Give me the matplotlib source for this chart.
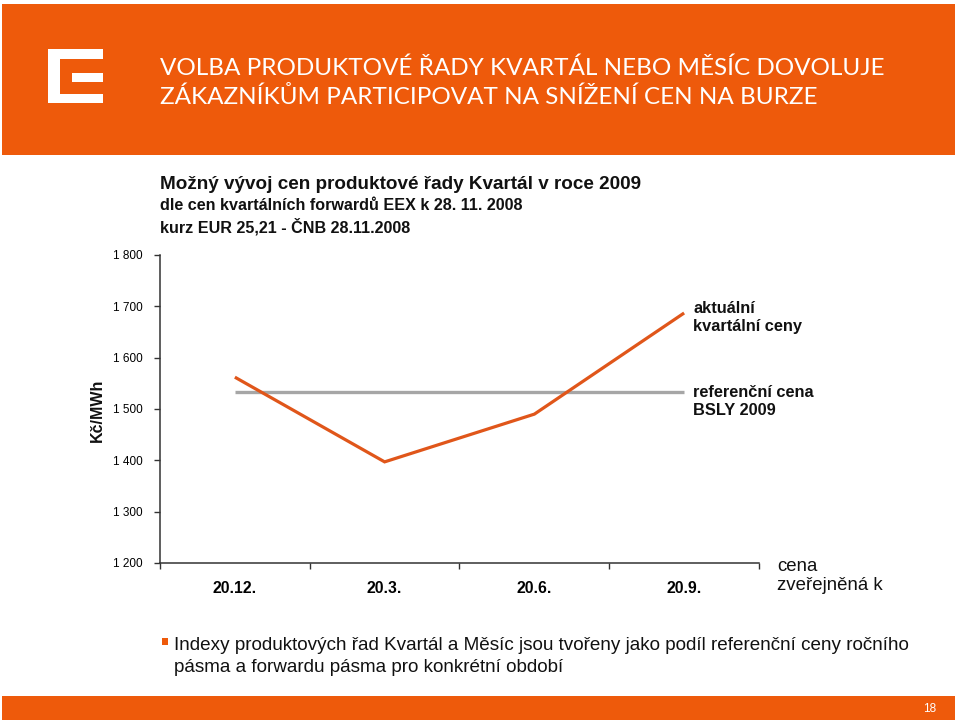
import matplotlib
matplotlib.use("Agg")
import matplotlib.pyplot as plt
from matplotlib.patches import Rectangle

# ---- data ----
categories = ["20.12.", "20.3.", "20.6.", "20.9."]
actual_prices = [1562, 1397, 1490, 1687]
reference_price = [1534, 1534, 1534, 1534]
y_ticks = [1200, 1300, 1400, 1500, 1600, 1700, 1800]
y_tick_labels = ["1 200", "1 300", "1 400", "1 500", "1 600", "1 700", "1 800"]

W, H = 960, 725
ORANGE = "#EE5A0B"
LINE_ORANGE = "#E0561A"
GREY = "#A6A6A6"

fig = plt.figure(figsize=(W / 100, H / 100), dpi=100)
fig.patch.set_facecolor("white")


def fx(x):
    return x / W


def fy(y):
    return 1 - y / H


# header band
fig.patches.append(Rectangle((fx(2), fy(155)), fx(953), 151 / H, transform=fig.transFigure,
                             facecolor=ORANGE, edgecolor="none", zorder=0))
# logo
for (x0, y0, x1, y1) in [(48, 49, 103, 59), (48, 49, 60, 103), (48, 94, 103, 103), (72, 73, 103, 82)]:
    fig.patches.append(Rectangle((fx(x0), fy(y1)), fx(x1 - x0), (y1 - y0) / H,
                                 transform=fig.transFigure, facecolor="white",
                                 edgecolor="none", zorder=1))

title_font = ["Lato", "DejaVu Sans"]
fig.text(fx(160), fy(75), "VOLBA PRODUKTOVÉ ŘADY KVARTÁL NEBO MĚSÍC DOVOLUJE",
         color="white", fontsize=17.5, family=title_font, va="baseline", ha="left")
fig.text(fx(160), fy(104), "ZÁKAZNÍKŮM PARTICIPOVAT NA SNÍŽENÍ CEN NA BURZE",
         color="white", fontsize=17.5, family=title_font, va="baseline", ha="left")

# footer band
fig.patches.append(Rectangle((fx(2), fy(720)), fx(953), 24 / H, transform=fig.transFigure,
                             facecolor=ORANGE, edgecolor="none", zorder=0))
fig.text(fx(936), fy(709), "18", color="white", fontsize=8.5, family=["Liberation Sans"],
         ha="right", va="center")

# chart subtitle
sans = ["Liberation Sans", "DejaVu Sans"]
fig.text(fx(160), fy(189), "Možný vývoj cen produktové řady Kvartál v roce 2009",
         fontsize=13.6, fontweight="bold", family=sans, color="#111111", va="baseline")
fig.text(fx(160), fy(210), "dle cen kvartálních forwardů EEX k 28. 11. 2008",
         fontsize=11.6, fontweight="bold", family=sans, color="#111111", va="baseline")
fig.text(fx(160), fy(232), "kurz EUR 25,21 - ČNB 28.11.2008",
         fontsize=11.6, fontweight="bold", family=sans, color="#111111", va="baseline")

# axes
ax = fig.add_axes([fx(160), fy(563), (759 - 160) / W, (563 - 255) / H])
ax.set_facecolor("none")
xs = list(range(len(categories)))
ax.plot(xs, reference_price, color=GREY, lw=2.4, solid_capstyle="butt", zorder=2)
ax.plot(xs, actual_prices, color=LINE_ORANGE, lw=2.3, solid_capstyle="butt",
        solid_joinstyle="miter", zorder=3)
ax.set_xlim(-0.5, len(categories) - 0.5)
ax.set_ylim(y_ticks[0], y_ticks[-1])
ax.set_yticks(y_ticks)
ax.set_yticklabels(y_tick_labels, family=sans, fontsize=8.5)
ax.set_xticks([i - 0.5 for i in range(len(categories) + 1)])
ax.set_xticklabels([])
ax.set_xticks(xs, minor=True)
ax.set_xticklabels(categories, minor=True, family=sans, fontsize=11.3, fontweight="bold")
ax.tick_params(axis="x", which="minor", length=0, pad=13)
ax.tick_params(axis="x", which="major", length=4, width=1, color="#333333", direction="out")
ax.tick_params(axis="y", length=4.5, width=1, color="#333333", direction="out", pad=8)
for s in ["top", "right"]:
    ax.spines[s].set_visible(False)
for s in ["left", "bottom"]:
    ax.spines[s].set_color("#333333")
    ax.spines[s].set_linewidth(1.1)
fig.text(fx(97), fy(410), "Kč/MWh", family=sans, fontsize=11.5, fontweight="bold",
         rotation=90, ha="center", va="center", color="#111111")

# annotations
fig.text(fx(693), fy(317), "aktuální\nkvartální ceny", fontsize=11.8, fontweight="bold",
         family=sans, va="center", ha="left", linespacing=1.25, color="#111111")
fig.text(fx(693), fy(401), "referenční cena\nBSLY 2009", fontsize=11.8, fontweight="bold",
         family=sans, va="center", ha="left", linespacing=1.25, color="#111111")
fig.text(fx(777), fy(576), "cena\nzveřejněná k", fontsize=13.4, family=sans,
         va="center", ha="left", linespacing=1.1, color="#111111")

# bullet
fig.patches.append(Rectangle((fx(162), fy(645)), 6 / W, 7 / H, transform=fig.transFigure,
                             facecolor=ORANGE, edgecolor="none"))
fig.text(fx(174), fy(645),
         "Indexy produktových řad Kvartál a Měsíc jsou tvořeny jako podíl referenční ceny ročního",
         fontsize=13.6, family=sans, va="center", ha="left", color="#111111")
fig.text(fx(174), fy(667), "pásma a forwardu pásma pro konkrétní období",
         fontsize=13.6, family=sans, va="center", ha="left", color="#111111")

fig.savefig("out.png", dpi=100)
